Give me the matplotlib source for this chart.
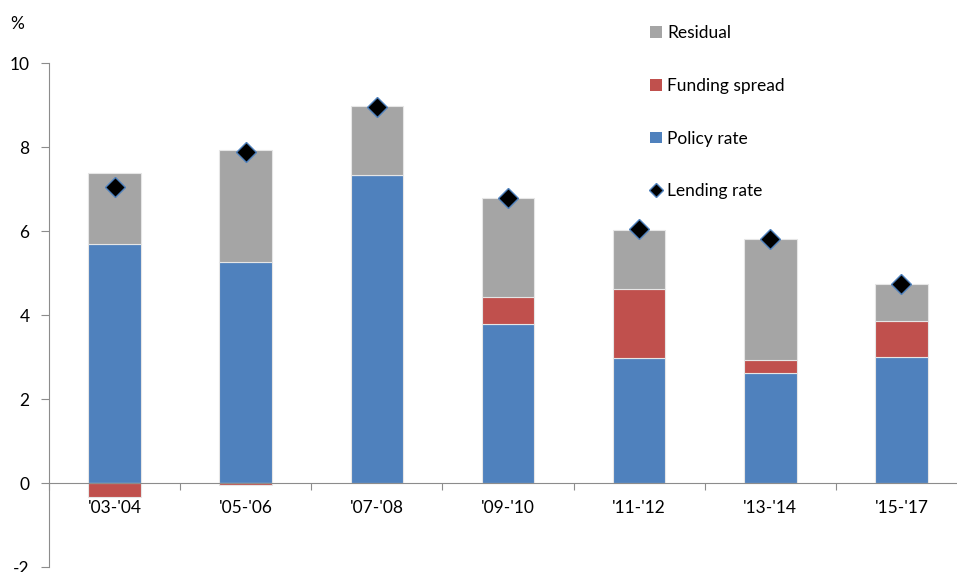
import matplotlib
matplotlib.use("Agg")
import matplotlib.pyplot as plt
from matplotlib.patches import Patch
from matplotlib.lines import Line2D
import numpy as np

plt.rcParams['font.family'] = ['Lato', 'DejaVu Sans']

categories = ["'03-'04", "'05-'06", "'07-'08", "'09-'10", "'11-'12", "'13-'14", "'15-'17"]
policy_rate = [5.70, 5.26, 7.34, 3.78, 2.97, 2.61, 2.99]
funding_spread = [-0.33, -0.04, 0.0, 0.66, 1.66, 0.32, 0.87]
residual = [1.69, 2.66, 1.63, 2.35, 1.40, 2.87, 0.89]
lending_rate = [7.05, 7.88, 8.96, 6.79, 6.04, 5.81, 4.74]

c_blue = '#4F81BD'
c_red = '#C0504D'
c_gray = '#A5A5A5'

fig = plt.figure(figsize=(9.57, 5.72), dpi=100)
ax = fig.add_axes([49/957, 5/572, (967-49)/957, (567-63)/572])

x = np.arange(len(categories))
w = 0.40
pol = np.array(policy_rate)
fund = np.array(funding_spread)
res = np.array(residual)
fund_bottom = np.where(fund >= 0, pol, 0.0)
res_bottom = pol + np.maximum(fund, 0)

ec = '#E6E6E6'
ax.bar(x, pol, w, color=c_blue, edgecolor=ec, linewidth=0.8, zorder=2)
ax.bar(x, fund, w, bottom=fund_bottom, color=c_red, edgecolor=ec, linewidth=0.8, zorder=2)
ax.bar(x, res, w, bottom=res_bottom, color=c_gray, edgecolor=ec, linewidth=0.8, zorder=2)
ax.plot(x, lending_rate, linestyle='none', marker='D', markersize=10.5,
        markerfacecolor='black', markeredgecolor=c_blue, markeredgewidth=1.0, zorder=3)

ax.set_xlim(-0.5, len(categories) - 0.5)
ax.set_ylim(-2, 10)
ax.set_yticks([-2, 0, 2, 4, 6, 8, 10])
ax.set_yticklabels(['-2', '0', '2', '4', '6', '8', '10'])

for s in ['top', 'right']:
    ax.spines[s].set_visible(False)
ax.spines['bottom'].set_position(('data', 0))
ax.spines['bottom'].set_color('#8C8C8C')
ax.spines['left'].set_color('#8C8C8C')

ax.set_xticks(np.arange(len(categories) + 1) - 0.5)
ax.set_xticklabels([''] * (len(categories) + 1))
ax.set_xticks(x, minor=True)
ax.set_xticklabels(categories, minor=True)
ax.tick_params(axis='x', which='major', direction='out', length=5, color='#8C8C8C')
ax.tick_params(axis='x', which='minor', length=0, pad=12, labelsize=12.5)
ax.tick_params(axis='y', direction='out', length=6, color='#8C8C8C', pad=8, labelsize=12.5)

fig.text(10/957, 1 - 24/572, '%', fontsize=12.5, va='center', ha='left')

handles = [Patch(facecolor=c_gray, edgecolor='none'),
           Patch(facecolor=c_red, edgecolor='none'),
           Patch(facecolor=c_blue, edgecolor='none'),
           Line2D([], [], linestyle='none', marker='D', markersize=7,
                  markerfacecolor='black', markeredgecolor=c_blue, markeredgewidth=1.0)]
labels = ['Residual', 'Funding spread', 'Policy rate', 'Lending rate']
fig.legend(handles, labels, loc='upper left', bbox_to_anchor=(650/957, 1 - 25/572),
           frameon=False, fontsize=12.5, handlelength=0.68, handleheight=0.68,
           handletextpad=0.3, labelspacing=2.12, borderpad=0, borderaxespad=0)

fig.savefig('out.png', dpi=100)
